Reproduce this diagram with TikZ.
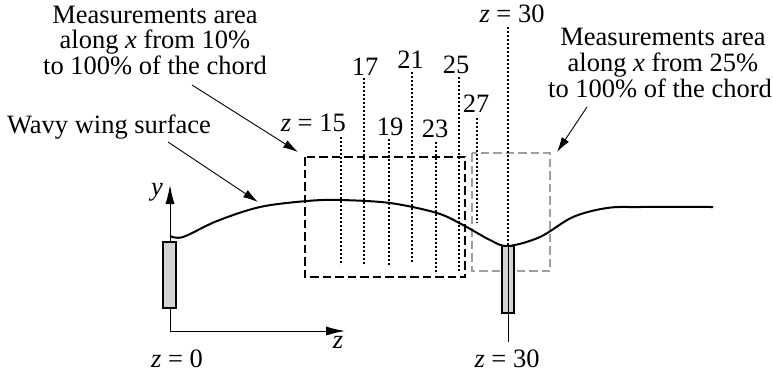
\documentclass[tikz,border=0pt]{standalone}
\usepackage{fontspec}
\setmainfont{Liberation Serif}
\usetikzlibrary{arrows.meta}
\begin{document}
\begin{tikzpicture}[x=1pt,y=-1pt,
  lbl/.style={font=\fontsize{26.5}{27}\selectfont, inner sep=0pt, anchor=base},
  dotln/.style={line width=1.6pt, dash pattern=on 2.2pt off 1.8pt},
  boxdash/.style={line width=1.8pt, dash pattern=on 8.5pt off 4pt},
  callout/.style={line width=0.9pt, -{Latex[length=15pt,width=8.5pt]}},
  axisln/.style={line width=0.9pt, -{Latex[length=19pt,width=9pt]}},
  post/.style={draw, line width=1.6pt, fill=gray!35, inner sep=0pt}
]
\useasboundingbox (0,0) rectangle (773,373);

% axes
\coordinate (o) at (170,331);
\coordinate (ytip) at (170,185);
\coordinate (ztip) at (345,331);
\draw[axisln] (o) -- (ytip);
\draw[axisln] (o) -- (ztip);
\node[lbl] (ylab) at (157,195) {\textit{y}};
\node[lbl] (zlab) at (338,348) {\textit{z}};

% post at z = 0
\node[post, minimum width=13pt, minimum height=66pt] (p0) at (169.5,275) {};

% measurement boxes
\draw[boxdash, gray!75] (472,153) rectangle (550,271);
\draw[boxdash] (305,157) rectangle (465,277);

% dotted measurement stations
\foreach \x/\t/\b in {341/137/265, 364/78/265, 389/139/265, 412/72/263, 436/142/272, 459/77/272, 477/118/223, 508/27/246}{
  \draw[dotln] (\x,\t) -- (\x,\b);
}

% wavy wing surface
\draw[line width=2pt] plot[smooth, tension=0.55] coordinates {(170,236) (183,237) (217,221) (260,207) (307,201) (340,200) (390,203) (437,213) (463,225) (490,240) (508,246) (540,237) (573,217) (607,208) (640,207) (713,207)};

% post at z = 30
\node[post, minimum width=12pt, minimum height=67pt] (p30) at (508,279.5) {};
\coordinate (c30t) at (508,246);
\coordinate (c30b) at (508,342);
\draw[line width=0.9pt] (c30t) -- (c30b);

% station labels
\node[lbl, anchor=base east] (l15) at (346,131) {\textit{z} = 15};
\node[lbl] (l17) at (365,75) {17};
\node[lbl] (l19) at (390,135) {19};
\node[lbl] (l21) at (410.5,68) {21};
\node[lbl] (l23) at (435,137) {23};
\node[lbl] (l25) at (456,73) {25};
\node[lbl] (l27) at (476,112) {27};
\node[lbl] (l30t) at (512,22) {\textit{z} = 30};
\node[lbl] (l30b) at (507,367) {\textit{z} = 30};
\node[lbl] (l0) at (177,367) {\textit{z} = 0};

% left texts
\node[lbl] (mA1) at (155,23) {Measurements area};
\node[lbl] (mA2) at (155,48.5) {along \textit{x} from 10\%};
\node[lbl] (mA3) at (155,74) {to 100\% of the chord};
\node[lbl] (wavy) at (109,133) {Wavy wing surface};

% right texts
\node[lbl] (mB1) at (663,45) {Measurements area};
\node[lbl] (mB2) at (663,71) {along \textit{x} from 25\%};
\node[lbl] (mB3) at (660,97) {to 100\% of the chord};

% callout arrows
\coordinate (a1s) at (192,85);  \coordinate (a1e) at (298,152);
\coordinate (a2s) at (168,142); \coordinate (a2e) at (258,202);
\coordinate (a3s) at (587,107); \coordinate (a3e) at (557,152);
\draw[callout] (a1s) -- (a1e);
\draw[callout] (a2s) -- (a2e);
\draw[callout] (a3s) -- (a3e);
\end{tikzpicture}
\end{document}
